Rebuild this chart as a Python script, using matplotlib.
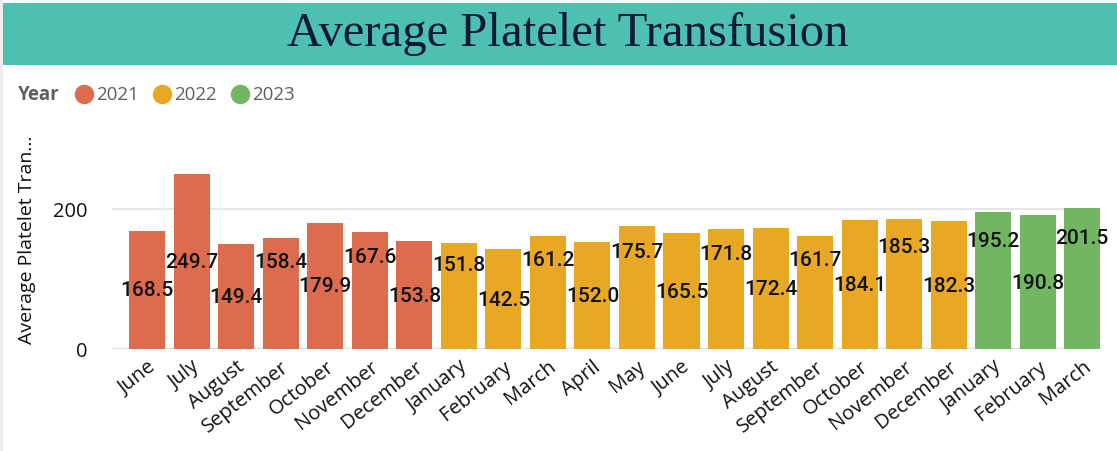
import matplotlib.pyplot as plt
from matplotlib.lines import Line2D
from matplotlib.patches import Rectangle

# data
months = ["June", "July", "August", "September", "October", "November", "December",
          "January", "February", "March", "April", "May", "June", "July", "August",
          "September", "October", "November", "December",
          "January", "February", "March"]
years = [2021] * 7 + [2022] * 12 + [2023] * 3
values = [168.5, 249.7, 149.4, 158.4, 179.9, 167.6, 153.8,
          151.8, 142.5, 161.2, 152.0, 175.7, 165.5, 171.8, 172.4,
          161.7, 184.1, 185.3, 182.3,
          195.2, 190.8, 201.5]
year_colors = {2021: "#DD6B4D", 2022: "#E9A823", 2023: "#72B662"}

fig = plt.figure(figsize=(11.17, 4.52), dpi=100)

# title band
fig.add_artist(Rectangle((0.003, 0.854), 0.997, 0.137, transform=fig.transFigure,
                         facecolor="#4DC0B2", edgecolor="none"))
fig.add_artist(Rectangle((0, 0), 0.003, 1, transform=fig.transFigure,
                         facecolor="#EDEDED", edgecolor="none"))
fig.text(0.508, 0.924, "Average Platelet Transfusion", ha="center", va="center",
         fontsize=35, family="Liberation Serif", color="#0C1B33")

# legend
fig.text(0.016, 0.79, "Year", ha="left", va="center", fontsize=13.5,
         family="Open Sans", fontweight="bold", color="#605E5C")
lx = [0.075, 0.145, 0.215]
for x, y in zip(lx, [2021, 2022, 2023]):
    fig.add_artist(Line2D([x], [0.79], marker="o", markersize=13, color=year_colors[y],
                          transform=fig.transFigure))
    fig.text(x + 0.011, 0.79, str(y), ha="left", va="center", fontsize=13.5,
             family="Open Sans", color="#605E5C")

ax = fig.add_axes([0.1003, 0.2257, 0.8845, 0.4867])
xs = list(range(len(values)))
colors = [year_colors[y] for y in years]
ax.bar(xs, values, width=0.81, color=colors, zorder=3)

for i in xs:
    val = values[i]
    if i % 2 == 0 or val > 220:
        ly = val * 0.5
    else:
        ly = val * 0.79
    ax.text(i, ly, f"{val:.1f}", ha="center", va="center", fontsize=15,
            family="Roboto", fontweight="medium", color="#111111", zorder=4)

ax.set_xlim(-0.79, 21.4)
ax.set_ylim(0, 314)
ax.set_yticks([0, 200])
ax.set_xticks(xs)
ax.set_xticklabels(months, rotation=38, ha="right", rotation_mode="anchor",
                   fontsize=14.5, family="Open Sans", color="#111111")
ax.tick_params(axis="x", length=0, pad=5)
ax.tick_params(axis="y", length=0, pad=18, labelsize=14.5, labelcolor="#111111")
for t in ax.get_yticklabels():
    t.set_family("Open Sans")
ax.grid(axis="y", color="#E6E6E6", linewidth=1.5, zorder=0)
for s in ax.spines.values():
    s.set_visible(False)
ax.axhline(0, color="#E0E0E0", linewidth=2.5, zorder=2)
ax.set_ylabel("Average Platelet Tran...", fontsize=14, family="Open Sans",
              color="#111111", labelpad=12)

plt.savefig("out.png", dpi=100)
